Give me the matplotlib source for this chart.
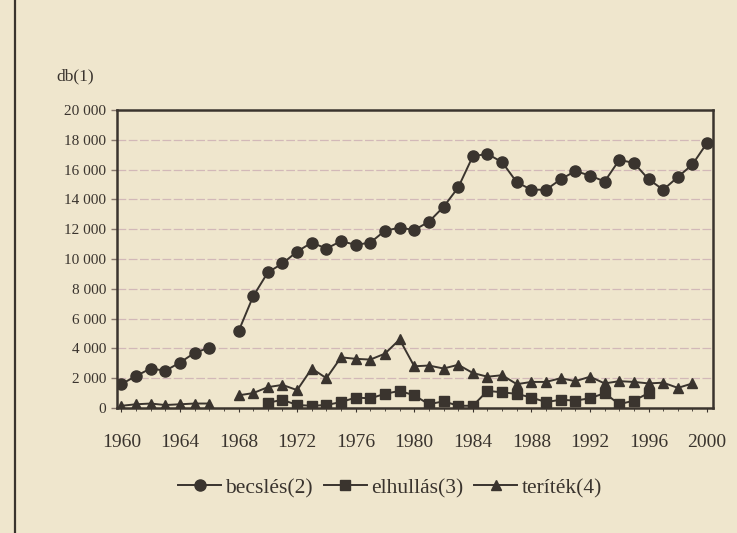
import matplotlib
matplotlib.use("Agg")
import matplotlib.pyplot as plt
import numpy as np

# data (db = darab)
becsles_years = list(range(1960, 1967)) + list(range(1968, 2001))
becsles = [1600, 2150, 2650, 2500, 3050, 3700, 4050,
           5150, 7500, 9100, 9700, 10500, 11100, 10700, 11200, 10950, 11100,
           11900, 12100, 11950, 12500, 13500, 14800, 16900, 17050, 16500,
           15150, 14650, 14650, 15350, 15900, 15600, 15200, 16650, 16450,
           15350, 14650, 15500, 16350, 17800]

elhullas_years = list(range(1970, 1997))
elhullas = [350, 550, 200, 150, 200, 400, 700, 650, 950, 1150, 850, 250, 450,
            150, 150, 1150, 1050, 950, 700, 400, 550, 500, 650, 1000, 250,
            500, 1000]

teritek_years = list(range(1960, 1967)) + list(range(1968, 2000))
teritek = [150, 250, 300, 200, 250, 300, 300,
           850, 1000, 1400, 1550, 1200, 2650, 2000, 3400, 3300, 3250, 3650,
           4600, 2800, 2850, 2650, 2900, 2350, 2100, 2200, 1600, 1750, 1750,
           2000, 1800, 2100, 1650, 1800, 1750, 1650, 1700, 1350, 1650]

yticks = [0, 2000, 4000, 6000, 8000, 10000, 12000, 14000, 16000, 18000, 20000]
xticks = [1960, 1964, 1968, 1972, 1976, 1980, 1984, 1988, 1992, 1996, 2000]

bg = "#efe6cd"
ink = "#3a342e"
plt.rcParams['font.family'] = ['Liberation Serif', 'DejaVu Serif']

fig = plt.figure(figsize=(7.37, 5.33), dpi=100, facecolor=bg)
ax = fig.add_axes([117/737, 1 - 408/533, (713 - 117)/737, (408 - 110)/533])
ax.set_facecolor(bg)

# page frame line of the scan
fig.add_artist(plt.Line2D([15/737, 15/737], [0, 1], color=ink, lw=1.6, transform=fig.transFigure))

for v in yticks[1:-1]:
    ax.axhline(v, color="#d2b8b8", lw=0.9, ls=(0, (7, 2)), zorder=1)

kw = dict(color=ink, lw=1.4, zorder=3)
ax.plot(becsles_years[:7], becsles[:7], marker='o', ms=8, **kw)
l1, = ax.plot(becsles_years[7:], becsles[7:], marker='o', ms=8, **kw)
l2, = ax.plot(elhullas_years, elhullas, marker='s', ms=7, **kw)
ax.plot(teritek_years[:7], teritek[:7], marker='^', ms=7, **kw)
l3, = ax.plot(teritek_years[7:], teritek[7:], marker='^', ms=7, **kw)

ax.set_xlim(1959.7, 2000.4)
ax.set_ylim(0, 20000)
ax.set_yticks(yticks)
ax.set_yticklabels([f"{v:,}".replace(",", " ") for v in yticks])
ax.set_xticks(xticks)
ax.set_xticks(range(1960, 2001), minor=True)
ax.tick_params(axis='y', length=4, width=1, color="#8a7a70", labelsize=11, labelcolor=ink, pad=4)
ax.tick_params(axis='x', which='major', length=3, color=ink, labelsize=14, labelcolor=ink, pad=16)
ax.tick_params(axis='x', which='minor', length=2, color=ink)
for s in ax.spines.values():
    s.set_color(ink)
    s.set_linewidth(1.8)

fig.text(75/737, 1 - 76/533, "db(1)", ha='center', va='center', fontsize=12.5, color=ink)

fig.legend([l1, l2, l3], ["becslés(2)", "elhullás(3)", "teríték(4)"],
           loc='center', bbox_to_anchor=(390/737, 1 - 488/533), ncol=3, frameon=False,
           fontsize=15.5, handlelength=2.0, handletextpad=0.2, columnspacing=0.5,
           labelcolor=ink)

fig.savefig("out.png", dpi=100, facecolor=bg)
